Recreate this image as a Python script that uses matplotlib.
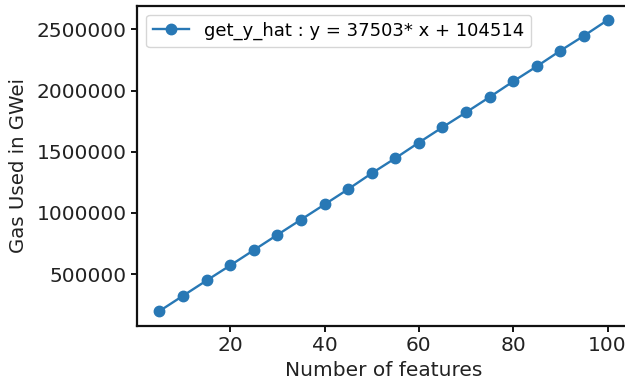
import matplotlib
matplotlib.use("Agg")
import matplotlib.pyplot as plt

# Numero di feature e gas usato
num_features = [5, 10, 15, 20, 25, 30, 35, 40, 45, 50,
                55, 60, 65, 70, 75, 80, 85, 90, 95, 100]
gas_used = [198000, 323000, 448000, 571000, 696000, 821000, 945000, 1069000, 1194000, 1324000,
            1447000, 1575000, 1700000, 1822000, 1947000, 2075000, 2198000, 2326000, 2448000, 2576000]
label_retta = "get_y_hat : y = 37503* x + 104514"

fig = plt.figure(figsize=(6.25, 3.84), dpi=100)
# l'asse destro esce dall'immagine come nell'originale
ax = fig.add_axes([0.2192, 0.152, 0.7888, 0.8336])
ax.plot(num_features, gas_used, marker="o", color="#2878b5",
        linewidth=1.7, markersize=7.5, label=label_retta)

ax.set_xlabel("Number of features", fontsize=14.5, color="#222222")
ax.set_ylabel("Gas Used in GWei", fontsize=14.2, color="#222222", labelpad=6)
ax.tick_params(labelsize=14.5, width=1.3, length=4, labelcolor="#222222")
for spine in ax.spines.values():
    spine.set_linewidth(1.6)
    spine.set_color("#111111")
ax.set_xticks([20, 40, 60, 80, 100])
ax.set_yticks([500000, 1000000, 1500000, 2000000, 2500000])
ax.ticklabel_format(style="plain", axis="y")
ax.legend(loc="upper left", fontsize=13)

fig.savefig("out.png", dpi=100)
